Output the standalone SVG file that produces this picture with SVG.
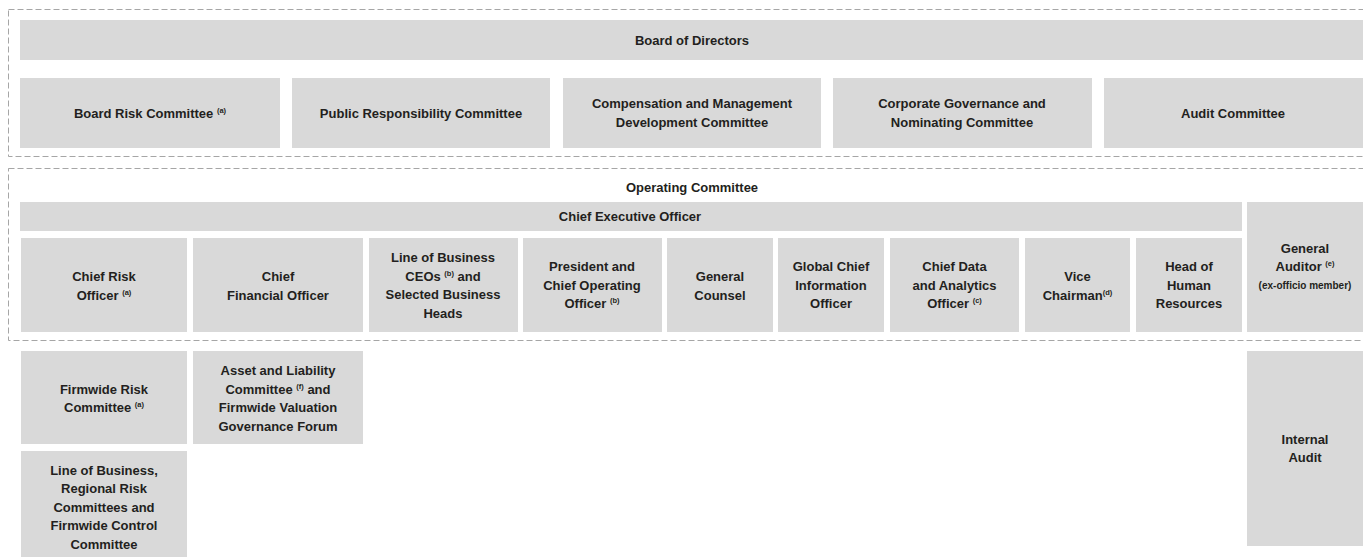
<svg xmlns="http://www.w3.org/2000/svg" width="1363" height="557" viewBox="0 0 1363 557">
<style>
.b{fill:#d9d9d9}
.d{fill:none;stroke:#a6a6a6;stroke-width:1;stroke-dasharray:6 3}
text{font-family:"Liberation Sans",Arial,sans-serif;font-weight:bold;font-size:13px;fill:#231f20;text-anchor:middle}
.s{font-size:7.5px}
.sm{font-size:10px}
</style>
<rect width="1363" height="557" fill="#ffffff"/>
<g id="containers">
<rect class="d" x="8.5" y="9.5" width="1400" height="147"/>
<rect class="d" x="8.5" y="168.5" width="1400" height="172"/>
</g>
<g id="connectors"></g>
<g id="board">
<rect class="b" x="20" y="20" width="1343" height="40"/>
<text x="692" y="45">Board of Directors</text>
</g>
<g id="board-risk">
<rect class="b" x="20" y="78" width="260" height="70"/>
<text x="150" y="118">Board Risk Committee <tspan class="s" dy="-5">(a)</tspan></text>
</g>
<g id="public-resp">
<rect class="b" x="292" y="78" width="258" height="70"/>
<text x="421" y="118">Public Responsibility Committee</text>
</g>
<g id="compensation">
<rect class="b" x="563" y="78" width="258" height="70"/>
<text x="692" y="108">Compensation and Management</text>
<text x="692" y="126.5">Development Committee</text>
</g>
<g id="corp-gov">
<rect class="b" x="833" y="78" width="259" height="70"/>
<text x="962" y="108">Corporate Governance and</text>
<text x="962" y="126.5">Nominating Committee</text>
</g>
<g id="audit-committee">
<rect class="b" x="1104" y="78" width="259" height="70"/>
<text x="1233" y="118">Audit Committee</text>
</g>
<g id="operating-committee">
<text x="692" y="191.5">Operating Committee</text>
</g>
<g id="ceo">
<rect class="b" x="20" y="202" width="1222" height="29"/>
<text x="630" y="221">Chief Executive Officer</text>
</g>
<g id="cro">
<rect class="b" x="21" y="238" width="166" height="94"/>
<text x="104" y="281">Chief Risk</text>
<text x="104" y="299.5">Officer <tspan class="s" dy="-5">(a)</tspan></text>
</g>
<g id="cfo">
<rect class="b" x="193" y="238" width="170" height="94"/>
<text x="278" y="281">Chief</text>
<text x="278" y="299.5">Financial Officer</text>
</g>
<g id="lob-ceos">
<rect class="b" x="369" y="238" width="149" height="94"/>
<text x="443" y="262">Line of Business</text>
<text x="443" y="280.5">CEOs <tspan class="s" dy="-5">(b)</tspan><tspan dy="5"> and</tspan></text>
<text x="443" y="299">Selected Business</text>
<text x="443" y="317.5">Heads</text>
</g>
<g id="president">
<rect class="b" x="523" y="238" width="139" height="94"/>
<text x="592" y="271">President and</text>
<text x="592" y="289.5">Chief Operating</text>
<text x="592" y="308">Officer <tspan class="s" dy="-5">(b)</tspan></text>
</g>
<g id="general-counsel">
<rect class="b" x="667" y="238" width="106" height="94"/>
<text x="720" y="281">General</text>
<text x="720" y="299.5">Counsel</text>
</g>
<g id="global-cio">
<rect class="b" x="778" y="238" width="106" height="94"/>
<text x="831" y="271">Global Chief</text>
<text x="831" y="289.5">Information</text>
<text x="831" y="308">Officer</text>
</g>
<g id="cdao">
<rect class="b" x="890" y="238" width="129" height="94"/>
<text x="954.5" y="271">Chief Data</text>
<text x="954.5" y="289.5">and Analytics</text>
<text x="954.5" y="308">Officer <tspan class="s" dy="-5">(c)</tspan></text>
</g>
<g id="vice-chairman">
<rect class="b" x="1025" y="238" width="105" height="94"/>
<text x="1077.5" y="281">Vice</text>
<text x="1077.5" y="299.5">Chairman<tspan class="s" dy="-5">(d)</tspan></text>
</g>
<g id="head-hr">
<rect class="b" x="1136" y="238" width="106" height="94"/>
<text x="1189" y="271">Head of</text>
<text x="1189" y="289.5">Human</text>
<text x="1189" y="308">Resources</text>
</g>
<g id="general-auditor">
<rect class="b" x="1247" y="202" width="116" height="130"/>
<text x="1305" y="252.5">General</text>
<text x="1305" y="271">Auditor <tspan class="s" dy="-5">(e)</tspan></text>
<text class="sm" x="1305" y="288.5">(ex-officio member)</text>
</g>
<g id="firmwide-risk">
<rect class="b" x="21" y="351" width="166" height="93"/>
<text x="104" y="393.5">Firmwide Risk</text>
<text x="104" y="412">Committee <tspan class="s" dy="-5">(a)</tspan></text>
</g>
<g id="alco">
<rect class="b" x="193" y="351" width="170" height="93"/>
<text x="278" y="375">Asset and Liability</text>
<text x="278" y="393.5">Committee <tspan class="s" dy="-5">(f)</tspan><tspan dy="5"> and</tspan></text>
<text x="278" y="412">Firmwide Valuation</text>
<text x="278" y="430.5">Governance Forum</text>
</g>
<g id="lob-risk-committees">
<rect class="b" x="21" y="451" width="166" height="110"/>
<text x="104" y="474.5">Line of Business,</text>
<text x="104" y="493">Regional Risk</text>
<text x="104" y="511.5">Committees and</text>
<text x="104" y="530">Firmwide Control</text>
<text x="104" y="548.5">Committee</text>
</g>
<g id="internal-audit">
<rect class="b" x="1247" y="351" width="116" height="195"/>
<text x="1305" y="443.5">Internal</text>
<text x="1305" y="462">Audit</text>
</g>
</svg>
